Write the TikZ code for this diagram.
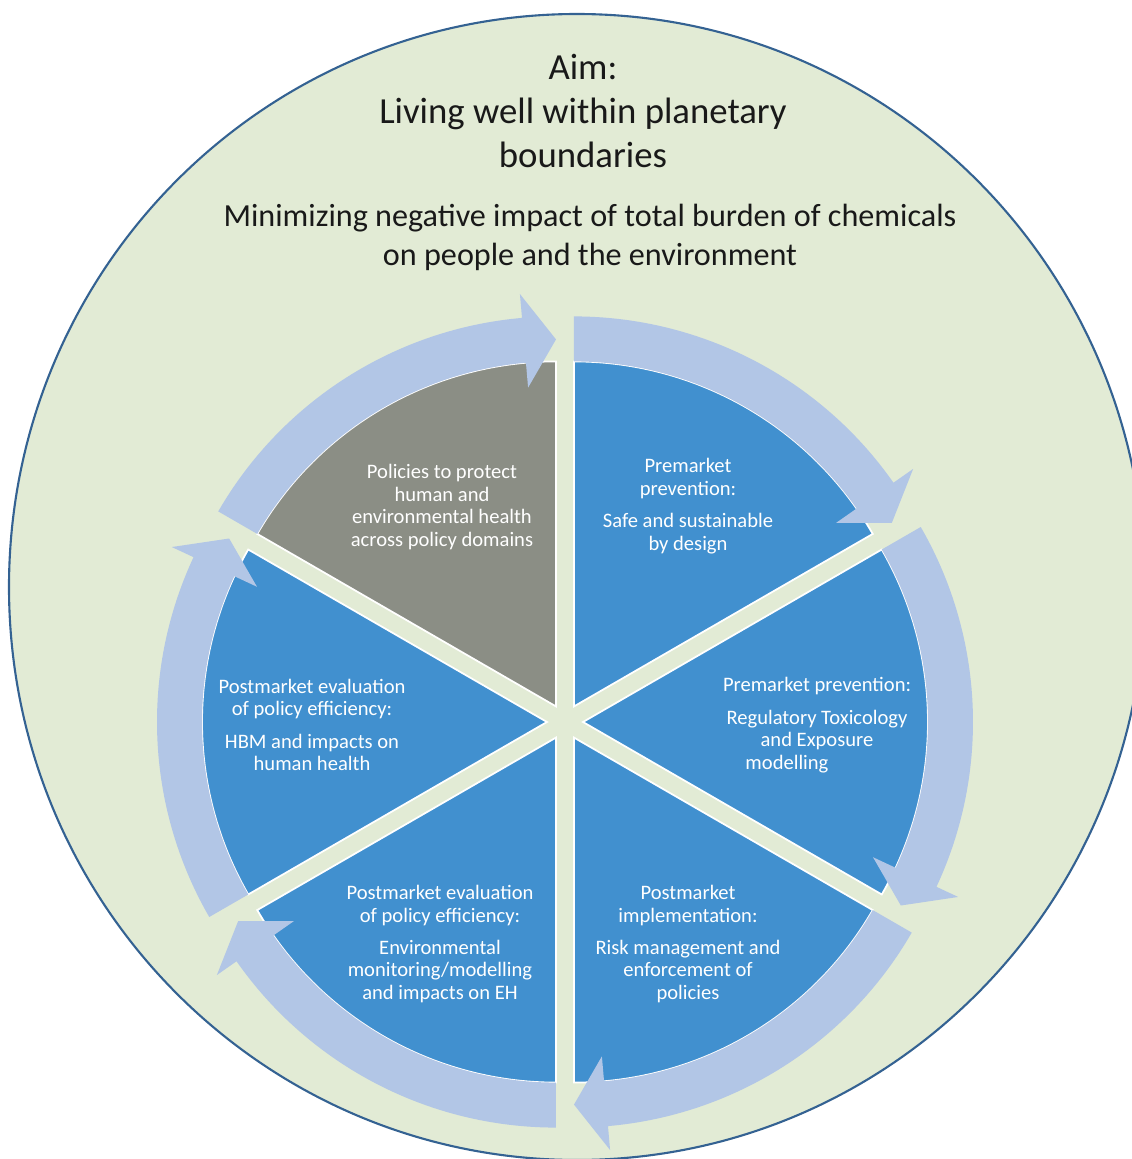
\documentclass[tikz,border=0pt]{standalone}
\usepackage{fontspec}
\setmainfont{Carlito}
\usetikzlibrary{calc}
\definecolor{bggreen}{RGB}{226,235,213}
\definecolor{rimblue}{RGB}{52,98,146}
\definecolor{segblue}{RGB}{65,144,207}
\definecolor{seggray}{RGB}{139,142,133}
\definecolor{arrowblue}{RGB}{178,198,230}

\begin{document}
\begin{tikzpicture}[x=0.01cm,y=0.01cm,
		titletext/.style={align=center,text=black!90,font=\fontsize{10.45}{12.5}\selectfont},
		subtext/.style={align=center,text=black!90,font=\fontsize{9.15}{11.1}\selectfont},
		segtext/.style={align=center,text=white,font=\fontsize{5.85}{6.4}\selectfont}] % cycle of six segments
			\useasboundingbox (0,0) rectangle (1132,1159);
			\coordinate (rim) at (577,572);
			\coordinate (mid) at (565,437);

			\fill[bggreen] (rim) ellipse[x radius=568, y radius=573];
			\draw[rimblue, line width=0.6pt] (rim) ellipse[x radius=568, y radius=573];

			% segments, pushed out from the middle
			\foreach \b/\col in {120/seggray,60/segblue,0/segblue,-60/segblue,-120/segblue,180/segblue}{
				\begin{scope}[shift={($(mid)+(\b:18)$)}]
					\filldraw[fill=\col, draw=white, line width=0.5pt] (0,0) -- (\b+30:345) arc[start angle=\b+30, end angle=\b-30, radius=345] -- cycle;
				\end{scope}
			}
			% curved arrows, clockwise
			\foreach \b in {120,60,0,-60,-120,180}{
				\begin{scope}[shift={($(mid)+(\b:18)$)}]
					\fill[arrowblue] (\b+30:390) arc[start angle=\b+30, end angle=\b-25, radius=390]
						-- (\b-25:414) -- (\b-30:367) -- (\b-25:320) -- (\b-25:345)
						arc[start angle=\b-25, end angle=\b+30, radius=345] -- cycle;
				\end{scope}
			}

			\node[titletext] (aim) at (583,1048) {Aim:\\Living well within planetary\\boundaries};
			\node[subtext] (burden) at (590,922) {Minimizing negative impact of total burden of chemicals\\on people and the environment};

			\node[segtext] (policy) at (442,652) {Policies to protect\\human and\\environmental health\\across policy domains};
			\node[segtext] (ssbd) at (688,653) {Premarket\\prevention:\\[2.8pt]Safe and sustainable\\by design};
			\node[segtext] (regtox) at (817,434) {Premarket prevention:\\[2.8pt]Regulatory Toxicology\\and Exposure\\modelling\hspace*{0.6cm}};
			\node[segtext] (riskman) at (688,215) {Postmarket\\implementation:\\[2.8pt]Risk management and\\enforcement of\\policies};
			\node[segtext] (envmon) at (440,215) {Postmarket evaluation\\of policy efficiency:\\[2.8pt]Environmental\\monitoring/modelling\\and impacts on EH};
			\node[segtext] (hbm) at (312,434) {Postmarket evaluation\\of policy efficiency:\\[2.8pt]HBM and impacts on\\human health};
		\end{tikzpicture}
\end{document}
